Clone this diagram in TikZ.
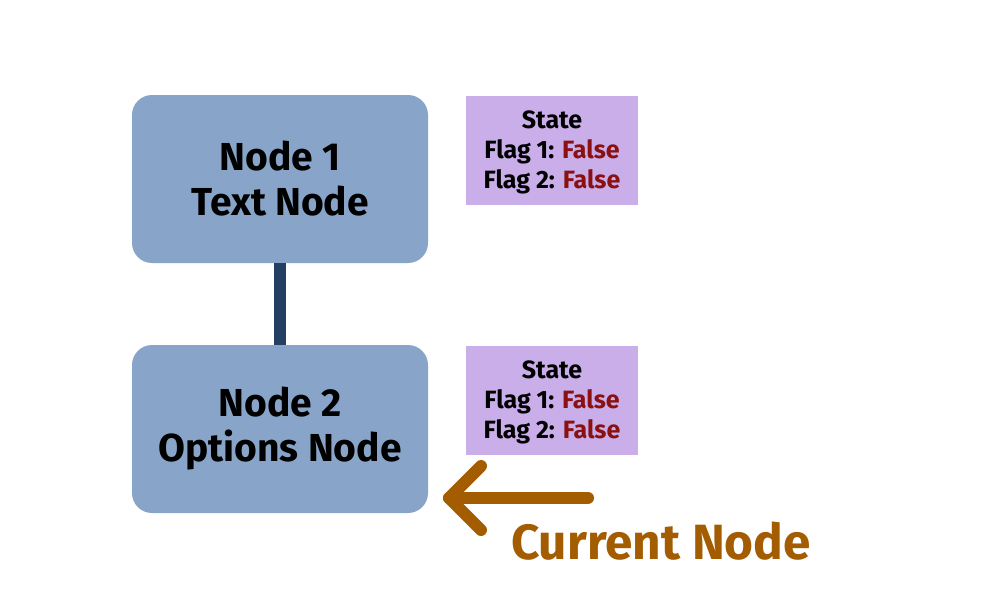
\documentclass[tikz,border=0pt]{standalone}
\usepackage{fontspec}
\setmainfont{Fira Sans}
\usetikzlibrary{arrows.meta}
\definecolor{boxblue}{HTML}{88A5C9}
\definecolor{linkblue}{HTML}{253F62}
\definecolor{statepurple}{HTML}{C9AEEA}
\definecolor{falsered}{HTML}{8A1111}
\definecolor{curorange}{HTML}{A35C00}
\tikzset{
  x=1pt,y=-1pt,
  mainbox/.style={fill=boxblue, rounded corners=20pt, minimum width=296pt, minimum height=168pt, inner sep=0pt, align=center, font=\bfseries\fontsize{39}{45}\selectfont},
  statebox/.style={fill=statepurple, minimum width=172pt, minimum height=109pt, inner sep=0pt, align=center, font=\bfseries\fontsize{25}{30}\selectfont},
  link/.style={draw=linkblue, line width=12pt},
  pointer/.style={draw=curorange, line width=12pt, line cap=round, line join=round},
}
\newcommand{\fval}{\textcolor{falsered}{False}}
\begin{document}
\begin{tikzpicture}
\useasboundingbox[fill=white] (0,0) rectangle (1000,613);
\node[mainbox] (n1) at (280,179) {Node 1\\Text Node};
\node[mainbox] (n2) at (280,429) {Node 2\\Options Node};
\draw[link] (n1.south) -- (n2.north);
\node[statebox] (s1) at (552,150.5) {\rule{0pt}{22pt}State\\Flag 1: \fval\\Flag 2: \fval};
\node[statebox] (s2) at (552,400.5) {\rule{0pt}{22pt}State\\Flag 1: \fval\\Flag 2: \fval};
\coordinate (atail) at (588,498);
\coordinate (ahead) at (449,498);
\coordinate (aup) at (481,466);
\coordinate (adown) at (481,530);
\draw[pointer] (atail) -- (ahead);
\draw[pointer] (aup) -- (ahead) -- (adown);
\node[text=curorange, font=\bfseries\fontsize{49.5}{56}\selectfont, anchor=center] (cur) at (661,541) {Current Node};
\end{tikzpicture}
\end{document}
